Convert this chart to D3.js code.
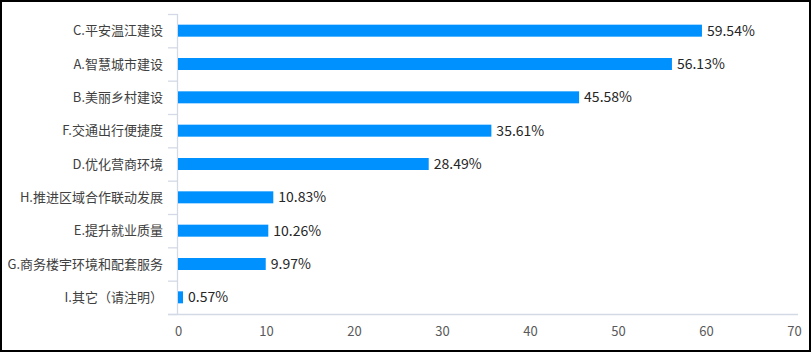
<!DOCTYPE html>
<html><head><meta charset="utf-8">
<script src="https://cdn.jsdelivr.net/npm/d3@7/dist/d3.min.js"></script>
<style>
html,body{margin:0;padding:0;background:#fff;}
svg{display:block;}
</style></head>
<body>
<script>
const categories = ["C.平安温江建设","A.智慧城市建设","B.美丽乡村建设","F.交通出行便捷度","D.优化营商环境","H.推进区域合作联动发展","E.提升就业质量","G.商务楼宇环境和配套服务","I.其它（请注明）"];
const values = [59.54, 56.13, 45.58, 35.61, 28.49, 10.83, 10.26, 9.97, 0.57];
const valueLabels = ["59.54%","56.13%","45.58%","35.61%","28.49%","10.83%","10.26%","9.97%","0.57%"];
const xTicks = [0,10,20,30,40,50,60,70];

const W = 812, H = 353;
const svg = d3.select("body").append("svg").attr("width", W).attr("height", H);
const font = "'Noto Sans CJK SC','Noto Sans',sans-serif";

// border
svg.append("rect").attr("x",1).attr("y",1).attr("width",809).attr("height",350)
  .attr("fill","none").attr("stroke","#000").attr("stroke-width",2);

const x = d3.scaleLinear().domain([0,70]).range([178,794]);
const y = d3.scaleBand().domain(categories).range([14,314]).paddingInner(0).paddingOuter(0);
const axisColor = "#d3dae6";

// category tick marks (band boundaries)
const bounds = categories.map(c => y(c)).concat([y.range()[1]]);
svg.append("g").selectAll("line").data(bounds).join("line")
  .attr("x1", x(0)-10).attr("x2", x(0)).attr("y1", d=>d+0.5).attr("y2", d=>d+0.5)
  .attr("stroke", axisColor).attr("stroke-width",1.3);

// vertical axis line
svg.append("line").attr("x1",x(0)-0.5).attr("x2",x(0)-0.5).attr("y1",y.range()[0]).attr("y2",y.range()[1])
  .attr("stroke",axisColor).attr("stroke-width",1.3);
// baseline
svg.append("line").attr("x1",x(0)-10).attr("x2",x(70)+4).attr("y1",y.range()[1]+0.5).attr("y2",y.range()[1]+0.5)
  .attr("stroke",axisColor).attr("stroke-width",1.3);

// bars
const barH = 12;
svg.append("g").selectAll("rect").data(values).join("rect")
  .attr("x", x(0))
  .attr("y", (d,i) => y(categories[i]) + y.bandwidth()/2 - barH/2)
  .attr("width", d => Math.max(5, x(d)-x(0)))
  .attr("height", barH)
  .attr("fill", "#0091ff");

// value labels
svg.append("g").selectAll("text").data(values).join("text")
  .attr("x", d => x(0) + Math.max(5, x(d)-x(0)) + 5)
  .attr("y", (d,i) => y(categories[i]) + y.bandwidth()/2)
  .attr("dy","0.36em")
  .attr("font-family", font).attr("font-size", 14).attr("fill","#262626")
  .text((d,i)=>valueLabels[i]);

// category labels
svg.append("g").selectAll("text").data(categories).join("text")
  .attr("x", 163)
  .attr("y", d => y(d) + y.bandwidth()/2)
  .attr("dy","0.36em").attr("text-anchor","end")
  .attr("font-family", font).attr("font-size", 13).attr("fill","#404040")
  .text(d=>d);

// x axis labels
const xAxis = d3.axisBottom(x).tickValues(xTicks).tickSize(0).tickPadding(0).tickFormat(d3.format("d"));
const gx = svg.append("g").attr("transform", `translate(0,${y.range()[1]})`).call(xAxis);
gx.select(".domain").remove();
gx.selectAll("text").attr("y", 17).attr("dy","0.36em")
  .attr("font-family", font).attr("font-size", 13).attr("fill","#595959");
</script>
</body></html>
